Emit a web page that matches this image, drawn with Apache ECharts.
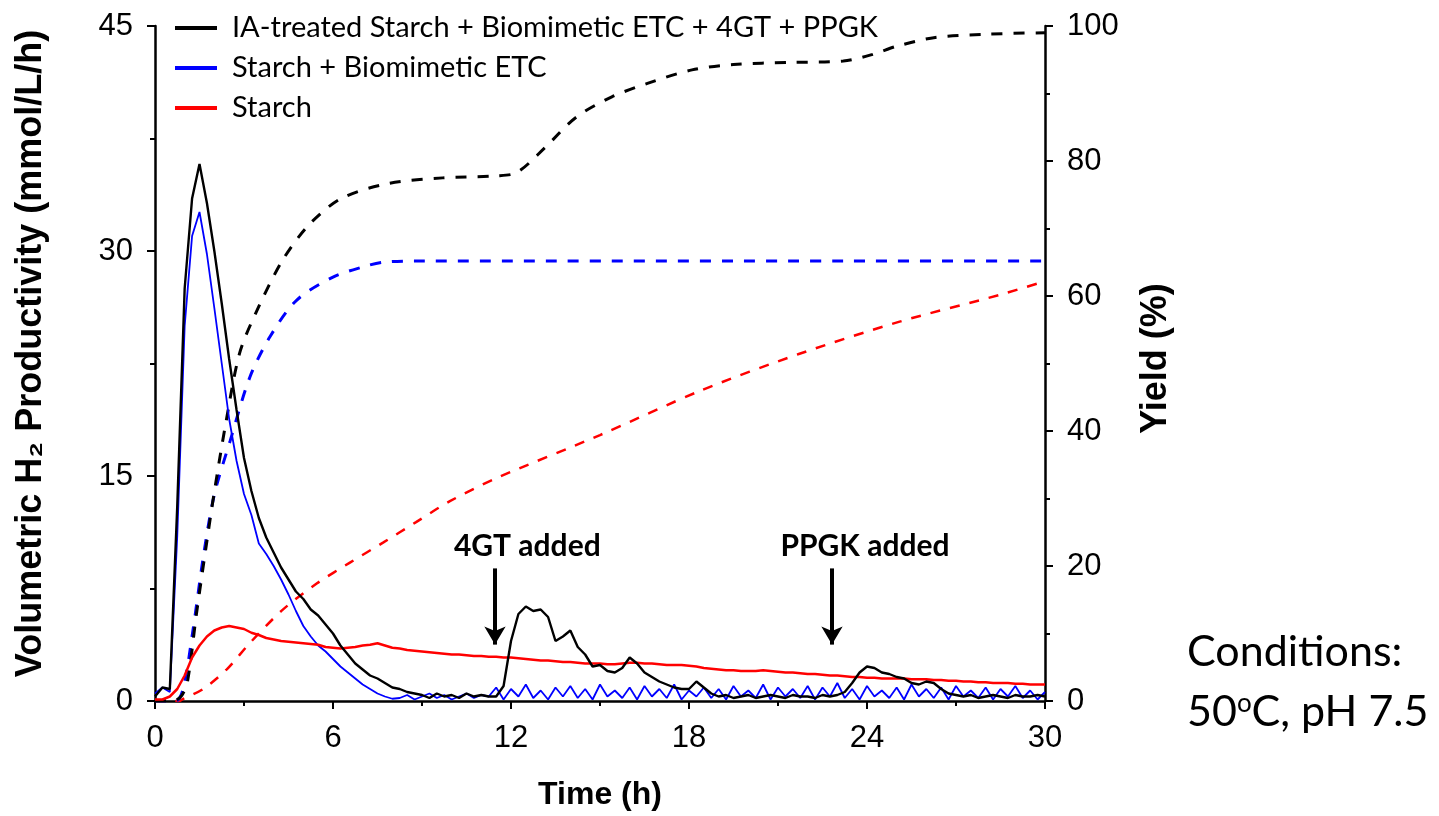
<!DOCTYPE html>
<html>
<head>
<meta charset="utf-8">
<script src="https://cdn.jsdelivr.net/npm/echarts@6/dist/echarts.min.js"></script>
<style>html,body{margin:0;padding:0;background:#fff;}#chart{width:1439px;height:816px;}</style>
</head>
<body>
<div id="chart"></div>
<script>
// ---- data ----
var timeH = [0,0.25,0.5,0.75,1,1.25,1.5,1.75,2,2.25,2.5,2.75,3,3.25,3.5,3.75,4,4.25,4.5,4.75,5,5.25,5.5,5.75,6,6.25,6.5,6.75,7,7.25,7.5,7.75,8,8.25,8.5,8.75,9,9.25,9.5,9.75,10,10.25,10.5,10.75,11,11.25,11.5,11.75,12,12.25,12.5,12.75,13,13.25,13.5,13.75,14,14.25,14.5,14.75,15,15.25,15.5,15.75,16,16.25,16.5,16.75,17,17.25,17.5,17.75,18,18.25,18.5,18.75,19,19.25,19.5,19.75,20,20.25,20.5,20.75,21,21.25,21.5,21.75,22,22.25,22.5,22.75,23,23.25,23.5,23.75,24,24.25,24.5,24.75,25,25.25,25.5,25.75,26,26.25,26.5,26.75,27,27.25,27.5,27.75,28,28.25,28.5,28.75,29,29.25,29.5,29.75,30];

var prodIA = [0.3,0.9,0.8,13,27.5,33.5,35.8,33.2,30,26.5,22.8,19.4,16.2,14.0,12.2,10.9,9.9,8.9,8.1,7.3,6.8,6.1,5.7,5.1,4.5,3.7,3.1,2.5,2.1,1.7,1.5,1.2,0.9,0.8,0.6,0.5,
  0.4,0.2,0.5,0.3,0.4,0.2,0.5,0.3,0.4,0.3,
  0.3,1.0,4.0,5.8,6.3,6.0,6.1,5.6,4.0,4.3,4.7,3.6,3.1,2.3,2.4,2.0,1.9,2.2,2.9,2.5,1.9,1.6,1.3,1.1,0.9,0.8,0.8,1.3,0.9,0.5,
  0.3,0.4,0.2,0.3,0.4,0.2,0.3,0.4,0.3,0.2,0.4,0.3,0.3,0.2,0.4,0.3,0.4,
  0.6,1.2,1.9,2.3,2.2,1.9,1.8,1.6,1.5,1.2,1.1,1.3,1.2,0.8,0.5,
  0.4,0.3,0.4,0.2,0.3,0.4,0.3,0.2,0.4,0.3,0.3,0.4,0.3];

var prodETC = [0.5,0.9,0.6,11,25,31,32.6,29.8,26.2,22.5,18.8,16.0,13.8,12.4,10.5,9.8,9.0,8.1,7.1,6.0,5.0,4.3,3.7,3.3,2.8,2.3,1.9,1.5,1.1,0.8,0.5,0.3,0.15,
  0.2,0.4,0.1,0.3,0.5,0.2,0.4,0.1,0.3,0.5,0.2,0.4,0.3,
  0.9,0.1,0.8,0.3,1.1,0.2,0.7,0.1,0.9,0.3,1.0,0.2,0.8,0.1,1.1,0.3,0.7,0.2,0.9,0.1,
  1.0,0.3,0.8,0.2,1.1,0.1,0.7,0.3,0.9,0.2,0.8,0.1,1.0,0.3,0.7,0.2,1.1,0.1,0.9,0.3,
  0.8,0.2,1.0,0.1,0.9,0.3,1.2,0.2,0.8,0.1,1.0,0.3,0.7,0.2,0.9,0.1,1.1,0.3,0.8,0.2,
  0.9,0.1,1.0,0.3,0.7,0.2,0.9,0.1,0.8,0.3,1.0,0.2,0.7,0.1,0.6];

var prodStarch = [0.1,0.1,0.3,0.8,1.7,2.9,3.7,4.3,4.7,4.9,5.0,4.9,4.8,4.55,4.4,4.2,4.1,4.0,3.95,3.9,3.85,3.8,3.75,3.6,3.55,
  3.5,3.55,3.6,3.7,3.75,3.85,3.7,3.55,3.5,3.4,3.35,3.3,3.25,3.2,3.15,3.1,3.1,3.05,3.0,3.0,2.95,2.95,2.9,2.9,
  2.85,2.8,2.75,2.7,2.7,2.65,2.6,2.6,2.55,2.5,2.5,2.5,2.45,2.45,2.5,2.55,2.55,2.5,2.5,2.45,2.4,2.4,2.4,2.35,
  2.3,2.2,2.15,2.1,2.05,2.05,2.0,2.0,2.0,2.05,2.0,1.95,1.9,1.9,1.85,1.8,1.8,1.75,1.7,1.7,1.65,1.6,1.6,1.55,
  1.55,1.5,1.5,1.5,1.5,1.45,1.45,1.45,1.4,1.4,1.35,1.35,1.3,1.3,1.25,1.25,1.2,1.2,1.2,1.15,1.15,1.1,1.1,1.1];

var yieldTimeIA = [0,0.6,0.9,1.1,1.4,1.75,2.0,2.4,2.85,3.4,4.3,5.2,6.3,7.9,9.7,11.5,12.2,13.15,14.2,15.4,16.6,18.1,19.5,21.4,23.2,24.2,25.0,26.3,28.1,30];
var yieldIA     = [0,0,0.8,3,13,23.7,31,41.5,51.5,57.5,65.3,70.6,74.5,76.7,77.5,77.8,78.3,82,86.5,89.5,91.5,93.5,94.3,94.6,94.8,95.8,97,98.3,98.8,99];
var yieldTimeETC = [0,0.7,0.95,1.28,1.63,2.0,2.53,3.2,3.88,4.78,6.0,7.0,7.7,9,30];
var yieldETC     = [0,0,1.8,10.5,21.4,30.6,38.5,48,54,59.4,62.8,64.3,65,65.2,65.2];
var yieldTimeStarch = [0,0.8,0.95,1.63,2.42,3.2,4.3,5.45,6.57,7.7,8.8,9.94,11.5,15,18.4,21.7,25.1,28.5,30];
var yieldStarch     = [0,0,0.3,1.8,4.7,8.6,13.5,17.4,20.5,23.5,26.5,29.6,33,39.4,46,51.4,56.2,60.2,62.2];

var seriesNames = ['IA-treated Starch + Biomimetic ETC + 4GT + PPGK','Starch + Biomimetic ETC','Starch'];
var xTicks = {min:0, max:30, interval:6};
var leftTicks = {min:0, max:45, interval:15};
var rightTicks = {min:0, max:100, interval:20};

// annotations: [time, top value, tip value], labels [time, value, text]
var arrows = [[11.46, 8.84, 3.76], [22.82, 8.84, 3.76]];
var notes = [[12.55, 10.3, '4GT added'], [23.93, 10.3, 'PPGK added']];

// ---- chart ----
function pairs(xs, ys){ return xs.map(function(x,i){ return [x, ys[i]]; }); }

var tickFont = 'Liberation Sans';
var axisCommon = {
  axisLine:{show:true, lineStyle:{color:'#000', width:2.5}},
  axisTick:{show:true, length:8, lineStyle:{color:'#000', width:2}},
  minorTick:{show:true, splitNumber:2, length:5, lineStyle:{color:'#000', width:2}},
  splitLine:{show:false}, minorSplitLine:{show:false},
  axisLabel:{color:'#000', fontSize:31, fontFamily:tickFont, margin:22},
  nameTextStyle:{color:'#000', fontSize:32, fontWeight:'bold', fontFamily:tickFont}
};
function ax(extra){
  var o = JSON.parse(JSON.stringify(axisCommon));
  for (var k in extra) o[k] = extra[k];
  return o;
}

var chart = echarts.init(document.getElementById('chart'), null, {renderer:'canvas'});
var option = {
  animation:false,
  backgroundColor:'#fff',
  grid:{left:155, right:394, top:26, bottom:107, containLabel:false},
  legend:{
    data:seriesNames, orient:'vertical', left:175, top:8, padding:0,
    icon:'rect', itemWidth:42, itemHeight:4, itemGap:0,
    textStyle:{color:'#000', fontFamily:'Lato', fontSize:29, lineHeight:40, padding:[0,0,0,10]}
  },
  xAxis:ax({type:'value', min:xTicks.min, max:xTicks.max, interval:xTicks.interval,
    name:'Time (h)', nameLocation:'middle', nameGap:78}),
  yAxis:[
    ax({type:'value', position:'left', min:leftTicks.min, max:leftTicks.max, interval:leftTicks.interval,
      name:'Volumetric H\u2082 Productivity (mmol/L/h)', nameLocation:'middle', nameGap:106, nameRotate:90,
      nameTextStyle:{color:'#000', fontSize:36, fontWeight:'bold', fontFamily:tickFont, padding:[0,0,0,20]}}),
    ax({type:'value', position:'right', min:rightTicks.min, max:rightTicks.max, interval:rightTicks.interval,
      name:'Yield (%)', nameLocation:'middle', nameGap:93, nameRotate:90,
      nameTextStyle:{color:'#000', fontSize:36, fontWeight:'bold', fontFamily:tickFont, padding:[0,0,0,10]}})
  ],
  series:[
    {name:'yieldStarch', type:'line', yAxisIndex:1, data:pairs(yieldTimeStarch, yieldStarch), smooth:0.3, showSymbol:false,
      lineStyle:{color:'#ff0000', width:2.5, type:[10,10]}},
    {name:'yieldETC', type:'line', yAxisIndex:1, data:pairs(yieldTimeETC, yieldETC), smooth:0.3, showSymbol:false,
      lineStyle:{color:'#0000ff', width:3, type:[11,11]}},
    {name:'yieldIA', type:'line', yAxisIndex:1, data:pairs(yieldTimeIA, yieldIA), smooth:0.3, showSymbol:false,
      lineStyle:{color:'#000', width:3, type:[11,11]}},
    {name:seriesNames[1], type:'line', data:pairs(timeH, prodETC), showSymbol:false, color:'#0000ff',
      lineStyle:{color:'#0000ff', width:1.8}},
    {name:seriesNames[2], type:'line', data:pairs(timeH, prodStarch), showSymbol:false, color:'#ff0000',
      lineStyle:{color:'#ff0000', width:2.5}},
    {name:seriesNames[0], type:'line', data:pairs(timeH, prodIA), showSymbol:false, color:'#000',
      lineStyle:{color:'#000', width:2.4}},
    {name:'annotations', type:'line', data:[], silent:true,
      markLine:{silent:true, symbol:['none','arrow'], symbolSize:[16,18], animation:false,
        lineStyle:{color:'#000', width:4, type:'solid'}, label:{show:false},
        data:arrows.map(function(a){ return [{coord:[a[0],a[1]]},{coord:[a[0],a[2]]}]; })},
      markPoint:{silent:true, symbol:'circle', symbolSize:0, animation:false,
        label:{show:true, position:'inside', color:'#000', fontFamily:'Lato', fontWeight:'bold', fontSize:30, formatter:function(p){return p.name;}},
        data:notes.map(function(n){ return {name:n[2], coord:[n[0], n[1]]}; })}
    }
  ],
  graphic:[
    {type:'text', left:1187, top:631, style:{text:'Conditions:', fill:'#000', font:'43px Lato'}},
    {type:'text', left:1187, top:691, style:{text:'50{sup|o}C, pH 7.5', fill:'#000', font:'43px Lato',
      rich:{sup:{fontSize:26, fontFamily:'Lato', verticalAlign:'top', padding:[0,0,16,0], fill:'#000'}}}}
  ]
};
chart.setOption(option);
</script>
</body>
</html>
